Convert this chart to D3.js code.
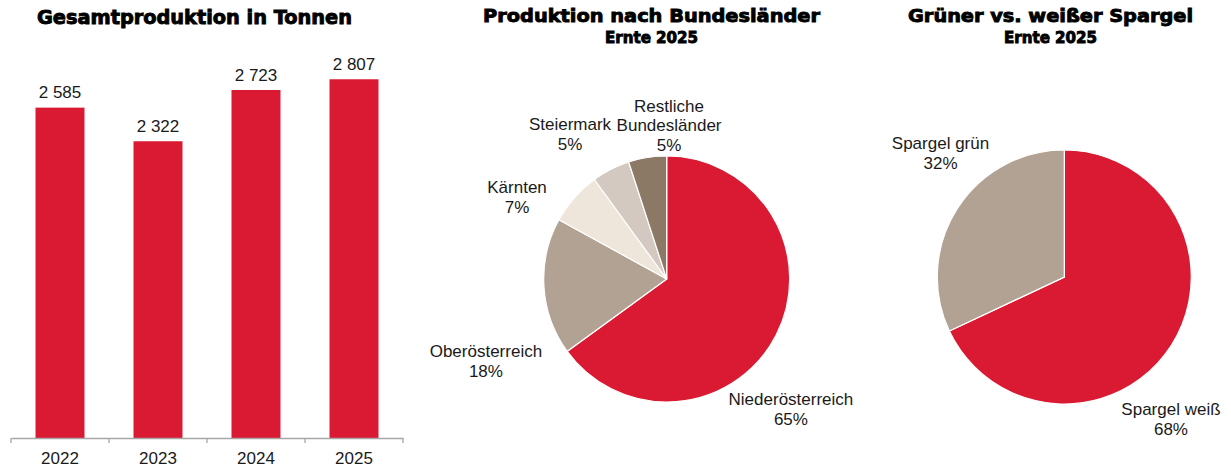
<!DOCTYPE html>
<html>
<head>
<meta charset="utf-8">
<title>Spargel Ernte 2025</title>
<style>
  body { margin: 0; background: #fff; }
  svg text { font-family: "Liberation Sans", Arial, sans-serif; fill: #1a1a1a; }
  .title { font-family: "DejaVu Sans", sans-serif; font-weight: bold; fill: #000; stroke: #000; stroke-width: 0.9px; }
  .axis path, .axis line { stroke: #a6a6a6; }
</style>
<script src="https://cdn.jsdelivr.net/npm/d3@7"></script>
</head>
<body>
<script>
// data
var years = ["2022", "2023", "2024", "2025"];
var tonnes = [2585, 2322, 2723, 2807];

var regions = ["Niederösterreich", "Oberösterreich", "Kärnten", "Steiermark", "Restliche Bundesländer"];
var regionShares = [65, 18, 7, 5, 5];

var kinds = ["Spargel weiß", "Spargel grün"];
var kindShares = [68, 32];

var red = "#da1a32";
var regionColors = [red, "#b1a293", "#eee6da", "#d3c9c0", "#8b7865"];
var kindColors = [red, "#b1a293"];

// label placement relative to pie centre, in units of radius
var regionLabelPos = [[1.01, 1.025], [-1.47, 0.635], [-1.217, -0.697], [-0.786, -1.21], [0.019, -1.36]];
var regionLabelLines = [["Niederösterreich"], ["Oberösterreich"], ["Kärnten"], ["Steiermark"], ["Restliche", "Bundesländer"]];
var kindLabelPos = [[0.84, 1.087], [-0.975, -1.005]];

var W = 1231, H = 470;
var svg = d3.select("body").append("svg")
    .attr("width", W)
    .attr("height", H);

function title(txt, cx, y, size, len) {
  svg.append("text")
      .attr("class", "title")
      .attr("x", cx)
      .attr("y", y)
      .attr("text-anchor", "middle")
      .attr("font-size", size)
      .attr("textLength", len)
      .attr("lengthAdjust", "spacingAndGlyphs")
      .text(txt);
}

// ---- bar chart
var x = d3.scaleBand()
    .domain(years)
    .range([11, 403])
    .paddingInner(0.5)
    .paddingOuter(0.25);

var y = d3.scaleLinear()
    .domain([0, 3000])
    .range([438, 54.6]);

title("Gesamtproduktion in Tonnen", 194.5, 24, 19, 315);

svg.selectAll("rect.bar")
    .data(tonnes)
  .enter().append("rect")
    .attr("class", "bar")
    .attr("x", function(d, i) { return x(years[i]); })
    .attr("width", x.bandwidth())
    .attr("y", function(d) { return y(d); })
    .attr("height", function(d) { return y(0) - y(d); })
    .attr("fill", red);

svg.selectAll("text.val")
    .data(tonnes)
  .enter().append("text")
    .attr("class", "val")
    .attr("x", function(d, i) { return x(years[i]) + x.bandwidth() / 2; })
    .attr("y", function(d) { return y(d) - 9.5; })
    .attr("text-anchor", "middle")
    .attr("font-size", 17)
    .text(function(d) { return d3.format(",")(d).replace(",", " "); });

var xAxis = svg.append("g")
    .attr("class", "axis")
    .attr("transform", "translate(0," + y(0) + ")")
    .call(d3.axisBottom(x).tickSize(0).tickSizeOuter(0));
xAxis.select(".domain").attr("stroke", "#a6a6a6").attr("stroke-width", 1.3);
xAxis.selectAll(".tick text")
    .attr("font-size", 17)
    .attr("fill", "#1a1a1a")
    .attr("font-family", "Liberation Sans, Arial, sans-serif")
    .attr("dy", 0)
    .attr("y", 26);

// separator ticks between categories
var step = x.step();
var edges = [x.range()[0]].concat(years.map(function(d) { return x(d) + x.bandwidth() + step * 0.25; }));
svg.selectAll("line.sep")
    .data(edges)
  .enter().append("line")
    .attr("class", "sep")
    .attr("x1", function(d) { return d; })
    .attr("x2", function(d) { return d; })
    .attr("y1", y(0))
    .attr("y2", y(0) + 5)
    .attr("stroke", "#a6a6a6")
    .attr("stroke-width", 1.3);

// ---- pies
function drawPie(cx, cy, r, values, colors, names, lines, pos) {
  var pie = d3.pie().sort(null).value(function(d) { return d; });
  var arc = d3.arc().innerRadius(0).outerRadius(r);
  var g = svg.append("g").attr("transform", "translate(" + cx + "," + cy + ")");
  g.selectAll("path")
      .data(pie(values))
    .enter().append("path")
      .attr("d", arc)
      .attr("fill", function(d, i) { return colors[i]; })
      .attr("stroke", "#fff")
      .attr("stroke-width", 1.2);

  values.forEach(function(v, i) {
    var t = g.append("text")
        .attr("text-anchor", "middle")
        .attr("font-size", 17)
        .attr("x", pos[i][0] * r)
        .attr("y", pos[i][1] * r);
    var ls = lines[i].concat([v + "%"]);
    ls.forEach(function(s, k) {
      t.append("tspan")
          .attr("x", pos[i][0] * r)
          .attr("dy", k === 0 ? 0 : 19.5)
          .text(s);
    });
  });
}

title("Produktion nach Bundesländer", 651.5, 21.5, 18, 337);
title("Ernte 2025", 651.5, 42.5, 15, 93);
drawPie(666.7, 279, 123, regionShares, regionColors, regions, regionLabelLines, regionLabelPos);

title("Grüner vs. weißer Spargel", 1050.5, 22, 18, 285);
title("Ernte 2025", 1050.5, 42.5, 15, 93);
drawPie(1064.3, 277, 127, kindShares, kindColors, kinds, kinds.map(function(d) { return [d]; }), kindLabelPos);
</script>
</body>
</html>
